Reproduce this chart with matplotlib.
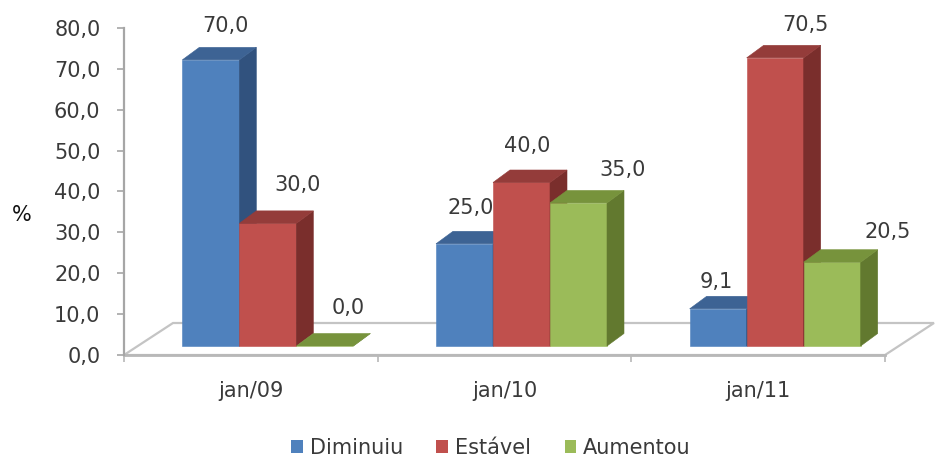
import matplotlib
matplotlib.use("Agg")
import matplotlib.pyplot as plt
from matplotlib.patches import Polygon, Patch
from matplotlib.ticker import FuncFormatter, FixedLocator

# ---- data ----
categories = ["jan/09", "jan/10", "jan/11"]
series_names = ["Diminuiu", "Estável", "Aumentou"]
diminuiu = [70.0, 25.0, 9.1]
estavel = [30.0, 40.0, 70.5]
aumentou = [0.0, 35.0, 20.5]
y_ticks = [0, 10, 20, 30, 40, 50, 60, 70, 80]

# ---- styling ----
W, H, DPI = 941, 458, 100
front_cols = ["#4F81BD", "#C0504D", "#9BBB59"]
top_cols = ["#3D6394", "#943C3A", "#77933C"]
side_cols = ["#31527E", "#7A2E2C", "#62792F"]
text_col = "#3A3A3A"
FS = 15

# label offsets (pixels) from the top-centre of each bar's front face
label_offsets = [
    [(15, -34), (6, -36), (-2, -27)],
    [(30, -38), (6, -36), (30, -33)],
    [(23, -38), (44, -33), (56, -30)],
]

plt.rcParams["font.family"] = ["DejaVu Sans"]

fig = plt.figure(figsize=(W / DPI, H / DPI), dpi=DPI)
left_px, right_px, top_px, base_px = 124, 885, 28, 355
ax = fig.add_axes([left_px / W, (H - base_px) / H,
                   (right_px - left_px) / W, (base_px - top_px) / H])
ax.set_xlim(-0.5, len(categories) - 0.5)
ax.set_ylim(0, 80)

# data units per pixel
ux = len(categories) / (right_px - left_px)
uy = 80 / (base_px - top_px)

# floor of the 3-D box
floor_dx, floor_dy = 49 * ux, 32 * uy
x0, x1 = -0.5, len(categories) - 0.5
floor = Polygon([(x0, 0), (x1, 0), (x1 + floor_dx, floor_dy), (x0 + floor_dx, floor_dy)],
                closed=True, facecolor="white", edgecolor="#C4C4C4", lw=1.6,
                clip_on=False, zorder=1)
ax.add_patch(floor)

# bars
bar_w = 57 * ux
shift_x, shift_y = 17 * ux, 9 * uy      # bars sit inside the floor depth
depth_x, depth_y = 17 * ux, 12.5 * uy   # visible depth of each bar
values = [diminuiu, estavel, aumentou]
z = 3
for i, cat in enumerate(categories):
    for j, vals in enumerate(values):
        v = vals[i]
        bx0 = i - 1.5 * bar_w + j * bar_w + shift_x
        bx1 = bx0 + bar_w
        by0 = shift_y
        by1 = shift_y + v
        front = Polygon([(bx0, by0), (bx1, by0), (bx1, by1), (bx0, by1)],
                        facecolor=front_cols[j], edgecolor=front_cols[j], lw=0.4,
                        clip_on=False, zorder=z)
        side = Polygon([(bx1, by0), (bx1 + depth_x, by0 + depth_y),
                        (bx1 + depth_x, by1 + depth_y), (bx1, by1)],
                       facecolor=side_cols[j], edgecolor=side_cols[j], lw=0.4,
                       clip_on=False, zorder=z)
        top = Polygon([(bx0, by1), (bx1, by1), (bx1 + depth_x, by1 + depth_y),
                       (bx0 + depth_x, by1 + depth_y)],
                      facecolor=top_cols[j], edgecolor=top_cols[j], lw=0.4,
                      clip_on=False, zorder=z)
        for p in (front, side, top):
            ax.add_patch(p)
        z += 1
        dx, dy = label_offsets[j][i]
        ax.annotate(f"{v:.1f}".replace(".", ","), xy=((bx0 + bx1) / 2, by1),
                    xytext=(dx, -dy), textcoords="offset pixels",
                    ha="center", va="center", fontsize=FS, color=text_col,
                    annotation_clip=False, zorder=50)

# axes styling
for s in ("top", "right"):
    ax.spines[s].set_visible(False)
ax.spines["left"].set_color("#A6A6A6")
ax.spines["left"].set_linewidth(1.6)
ax.spines["bottom"].set_color("#B8B8B8")
ax.spines["bottom"].set_linewidth(2.0)
ax.spines["bottom"].set_zorder(2)

ax.yaxis.set_major_locator(FixedLocator(y_ticks))
ax.yaxis.set_major_formatter(FuncFormatter(lambda v, p: f"{v:.1f}".replace(".", ",")))
ax.tick_params(axis="y", length=5, width=1.2, color="#A6A6A6", labelsize=FS,
               labelcolor=text_col, pad=12)

ax.set_xticks(range(len(categories)))
ax.set_xticklabels(categories)
ax.set_xticks([k - 0.5 for k in range(len(categories) + 1)], minor=True)
ax.tick_params(axis="x", which="major", length=0, labelsize=FS,
               labelcolor=text_col, pad=19)
ax.tick_params(axis="x", which="minor", length=5, width=1.2, color="#B8B8B8")

fig.text(22 / W, 1 - 215 / H, "%", fontsize=FS, color="#111111",
         ha="center", va="center")

handles = [Patch(facecolor=c, edgecolor="none") for c in front_cols]
fig.legend(handles, series_names, loc="center", ncol=3, frameon=False,
           bbox_to_anchor=(491 / W, 1 - 448 / H), fontsize=FS,
           labelcolor=text_col, handlelength=0.55, handleheight=0.55,
           handletextpad=0.35, columnspacing=1.6)

fig.savefig("out.png", dpi=DPI)
